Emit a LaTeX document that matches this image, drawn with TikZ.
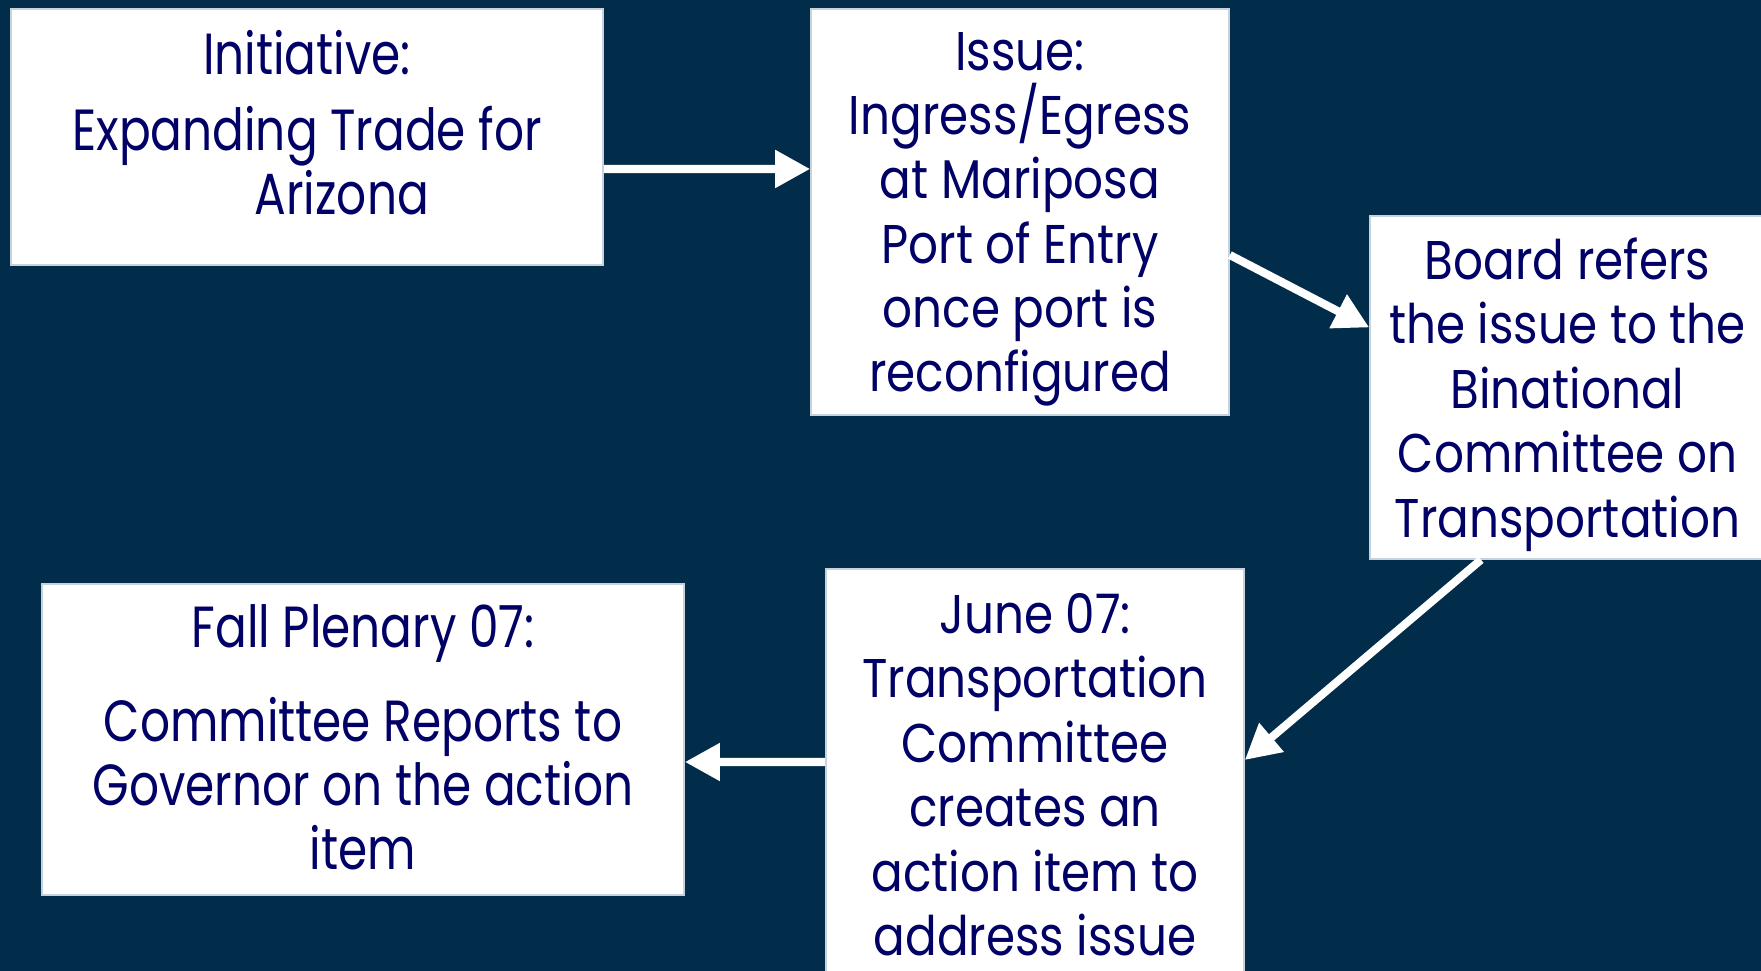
\documentclass[tikz,border=0pt]{standalone}
\usepackage{fontspec}
\setmainfont{Poppins}
\newfontfamily\widefont[FakeStretch=0.86]{Poppins}
\newfontfamily\narrowfont[FakeStretch=0.81]{Poppins}
\usetikzlibrary{arrows.meta}
\definecolor{bgnavy}{RGB}{2,45,74}
\definecolor{textnavy}{RGB}{0,0,102}
\definecolor{rimgrey}{RGB}{200,210,220}
\begin{document}
\begin{tikzpicture}[x=0.01cm,y=-0.01cm]
    \tikzset{
        stepbox/.style={draw=rimgrey, line width=0.4pt, fill=white, text=textnavy,
            inner sep=0pt, align=center, text depth=0pt, font=\widefont\fontsize{15.5}{18.3}\selectfont},
        narrowbox/.style={stepbox, font=\narrowfont\fontsize{16.5}{18.2}\selectfont},
        flow/.style={draw=white, line width=2.3pt, -{Triangle[length=0.35cm,width=0.36cm]}}
    }
    \fill[bgnavy] (0,0) rectangle (1761,971);
    \useasboundingbox (0,0) rectangle (1761,971);

    \draw node[narrowbox, text depth=0.3cm, minimum width=5.92cm, minimum height=2.56cm] (b1) at (307,137)
        {Initiative:\\[3.4pt] Expanding Trade for\\ \hspace*{1.2em}Arizona};
    \draw node[stepbox, minimum width=4.18cm, minimum height=4.06cm] (b2) at (1020,212)
        {Issue:\\ Ingress/Egress\\ at Mariposa\\ Port of Entry\\ once port is\\ reconfigured};
    \draw node[stepbox, minimum width=3.95cm, minimum height=3.43cm] (b3) at (1567.5,387.5)
        {Board refers\\ the issue to the\\ Binational\\ Committee on\\ Transportation};
    \draw node[stepbox, minimum width=4.18cm, minimum height=4.11cm] (b4) at (1035,774.5)
        {June 07:\\ Transportation\\ Committee\\ creates an\\ action item to\\ address issue};
    \draw node[narrowbox, text depth=0.05cm, minimum width=6.42cm, minimum height=3.11cm] (b5) at (363,739.5)
        {Fall Plenary 07:\\[8.5pt] Committee Reports to\\ Governor on the action\\ item};

    \draw[flow] ([yshift=-0.32cm]b1.east) -- ([yshift=0.43cm]b2.west);
    \draw[flow] ([yshift=-0.43cm]b2.east) -- ([yshift=0.60cm]b3.west);
    \draw[flow] ([xshift=-0.865cm]b3.south) -- ([yshift=0.145cm]b4.east);
    \draw[flow] ([yshift=0.125cm]b4.west) -- ([yshift=-0.225cm]b5.east);
\end{tikzpicture}
\end{document}
